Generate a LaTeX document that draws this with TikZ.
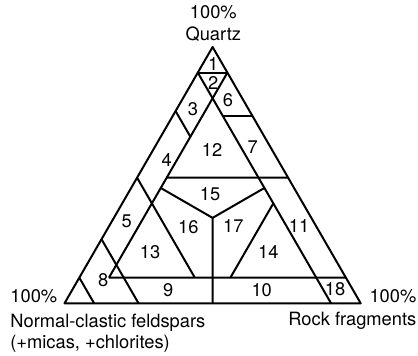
\documentclass[tikz,border=0pt]{standalone}
\usepackage{fontspec}
\setmainfont{TeX Gyre Heros}
\tikzset{
    fieldline/.style={line width=1pt,line join=round},
    fieldno/.style={inner sep=0pt,font=\fontsize{9.15}{10}\selectfont},
    cornertext/.style={inner sep=0pt,font=\fontsize{9.15}{10}\selectfont}
}
\begin{document}
\begin{tikzpicture}[x=0.5pt,y=-0.5pt]
		\useasboundingbox (0,0) rectangle (418,355);
		% corners: Q quartz, F feldspars, R rock fragments
		\coordinate (Q) at (212.6,47);
		\coordinate (F) at (64.5,303.3);
		\coordinate (R) at (360.7,303.3);
		% points of the field lines
		\coordinate (q90l) at (barycentric cs:Q=0.9,F=0.1,R=0);
		\coordinate (q90r) at (barycentric cs:Q=0.9,F=0,R=0.1);
		\coordinate (abot) at (barycentric cs:Q=0.1,F=0.8,R=0.1);
		\coordinate (bbot) at (barycentric cs:Q=0,F=0.1,R=0.9);
		\coordinate (f25a) at (barycentric cs:Q=0.75,F=0.25,R=0);
		\coordinate (f25b) at (barycentric cs:Q=0.65,F=0.25,R=0.1);
		\coordinate (q73a) at (barycentric cs:Q=0.73,F=0.1,R=0.17);
		\coordinate (q73b) at (barycentric cs:Q=0.73,F=0,R=0.27);
		\coordinate (q49a) at (barycentric cs:Q=0.49,F=0.41,R=0.1);
		\coordinate (q49b) at (barycentric cs:Q=0.49,F=0,R=0.51);
		\coordinate (f51a) at (barycentric cs:Q=0.49,F=0.51,R=0);
		\coordinate (f51b) at (barycentric cs:Q=0.1,F=0.51,R=0.39);
		\coordinate (r51a) at (barycentric cs:Q=0.39,F=0.1,R=0.51);
		\coordinate (r51b) at (barycentric cs:Q=0.1,F=0.39,R=0.51);
		\coordinate (cen) at (barycentric cs:Q=1,F=1,R=1);
		\coordinate (bisl) at (barycentric cs:Q=0.45,F=0.45,R=0.1);
		\coordinate (bisr) at (barycentric cs:Q=0.45,F=0.1,R=0.45);
		\coordinate (midb) at (barycentric cs:Q=0,F=0.5,R=0.5);
		\coordinate (q10b) at (barycentric cs:Q=0.1,F=0,R=0.9);
		\coordinate (f75a) at (barycentric cs:Q=0.25,F=0.75,R=0);
		\coordinate (f75b) at (barycentric cs:Q=0,F=0.75,R=0.25);
		\coordinate (f90a) at (barycentric cs:Q=0.1,F=0.9,R=0);
		\coordinate (f90b) at (barycentric cs:Q=0,F=0.9,R=0.1);
		% outer triangle and field boundaries
		\draw[fieldline] (Q) -- (F) -- (R) -- cycle;
		\draw[fieldline] (q90l) -- (q90r);
		\draw[fieldline] (q90r) -- (abot);
		\draw[fieldline] (q90l) -- (bbot);
		\draw[fieldline] (f25a) -- (f25b);
		\draw[fieldline] (q73a) -- (q73b);
		\draw[fieldline] (q49a) -- (q49b);
		\draw[fieldline] (f51a) -- (f51b);
		\draw[fieldline] (r51a) -- (r51b);
		\draw[fieldline] (bisl) -- (cen) -- (bisr);
		\draw[fieldline] (cen) -- (midb);
		\draw[fieldline] (abot) -- (q10b);
		\draw[fieldline] (f75a) -- (f75b);
		\draw[fieldline] (f90a) -- (f90b);
		% field numbers
		\node[fieldno] (n1) at (213.3,64) {1};
		\node[fieldno] (n2) at (213.3,83) {2};
		\node[fieldno] (n3) at (193,109) {3};
		\node[fieldno] (n4) at (166.7,160) {4};
		\node[fieldno] (n5) at (126.7,221.7) {5};
		\node[fieldno] (n6) at (228,100.5) {6};
		\node[fieldno] (n7) at (252.7,146.7) {7};
		\node[fieldno] (n8) at (103.3,280) {8};
		\node[fieldno] (n9) at (168.3,290) {9};
		\node[fieldno] (n10) at (261.7,290) {10};
		\node[fieldno] (n11) at (299,226) {11};
		\node[fieldno] (n12) at (212,150) {12};
		\node[fieldno] (n13) at (150,251.7) {13};
		\node[fieldno] (n14) at (268.3,251.7) {14};
		\node[fieldno] (n15) at (210,194.3) {15};
		\node[fieldno] (n16) at (188.3,226.7) {16};
		\node[fieldno] (n17) at (233.3,226) {17};
		\node[fieldno] (n18) at (335,289.3) {18};
		% corner labels
		\node[cornertext,anchor=base] (qpct) at (213.3,18.5) {100\%};
		\node[cornertext,anchor=base] (qname) at (213.3,40) {Quartz};
		\node[cornertext,anchor=base west] (fpct) at (10,302.7) {100\%};
		\node[cornertext,anchor=base west] (fname) at (10,327) {Normal-clastic feldspars};
		\node[cornertext,anchor=base west] (fnote) at (10,348.3) {(+micas, +chlorites)};
		\node[cornertext,anchor=base east] (rpct) at (416.7,302.7) {100\%};
		\node[cornertext,anchor=base east] (rname) at (416.7,325) {Rock fragments};
\end{tikzpicture}
\end{document}
